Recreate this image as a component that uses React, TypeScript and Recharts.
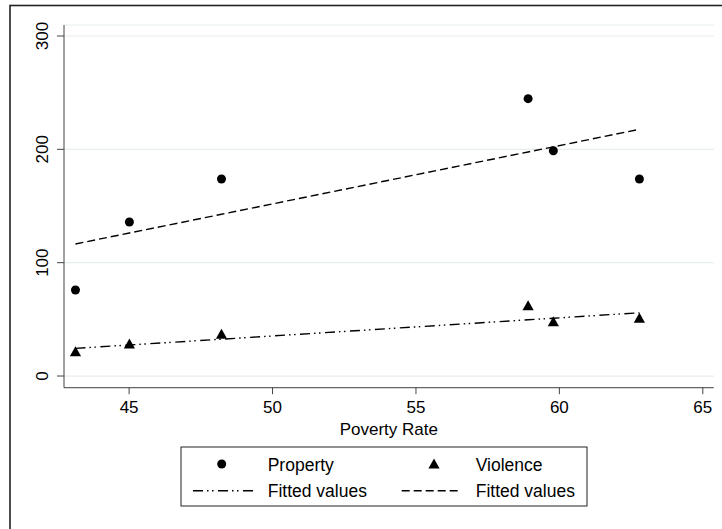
import React from "react";
import { ComposedChart, Scatter, Line, XAxis, YAxis, CartesianGrid } from "recharts";

const povertyRate = [43.13, 45.01, 48.22, 58.91, 59.79, 62.79];
const propertyCrime = [75.9, 135.9, 173.8, 244.7, 198.8, 173.8];
const violenceCrime = [21.4, 28.2, 36.9, 62.0, 47.9, 50.9];
const propertyFitted = [116.5, 126.2, 142.7, 197.7, 202.2, 217.7];
const violenceFitted = [24.4, 27.4, 32.5, 49.6, 51.0, 55.8];
const xTicks = [45, 50, 55, 60, 65];
const yTicks = [0, 100, 200, 300];

const data = povertyRate.map((x, i) => ({
  x,
  property: propertyCrime[i],
  violence: violenceCrime[i],
  fitProperty: propertyFitted[i],
  fitViolence: violenceFitted[i],
}));

const FONT = "'Liberation Sans', Arial, Helvetica, sans-serif";
const AXIS = "#444";
const DASH = "8 4";
const DASHDOT = "10 4 1.5 3.5 1.5 4.5";

const Circle = (p: any) => <circle cx={p.cx} cy={p.cy} r={4.5} fill="#000" />;
const Triangle = (p: any) => (
  <polygon
    points={`${p.cx},${p.cy - 5.5} ${p.cx - 5.6},${p.cy + 4.5} ${p.cx + 5.6},${p.cy + 4.5}`}
    fill="#000"
  />
);

const XTick = (p: any) => (
  <text x={p.x} y={412.5} textAnchor="middle" fontSize={17} fontFamily={FONT} fill="#000">
    {p.payload.value}
  </text>
);
const YTick = (p: any) => (
  <text
    x={48}
    y={p.y}
    transform={`rotate(-90, 48, ${p.y})`}
    textAnchor="middle"
    fontSize={17}
    fontFamily={FONT}
    fill="#000"
  >
    {p.payload.value}
  </text>
);

const XLabel = (p: any) => {
  const vb = p.viewBox || { x: 64, width: 650 };
  return (
    <text x={vb.x + vb.width / 2} y={434.5} textAnchor="middle" fontSize={17} fontFamily={FONT} fill="#000">
      Poverty Rate
    </text>
  );
};

export default function App() {
  return (
    <div style={{ position: "absolute", left: 0, top: 0, width: 722, height: 529, overflow: "hidden", background: "#fff" }}>
      <ComposedChart
        width={722}
        height={529}
        data={data}
        margin={{ top: 25, right: 8.3, left: 0, bottom: 0 }}
      >
        <CartesianGrid horizontal vertical={false} stroke="#e6eef0" strokeWidth={1.2} />
        <XAxis
          type="number"
          dataKey="x"
          domain={[42.73, 65.38]}
          ticks={xTicks}
          interval={0}
          allowDataOverflow
          height={141.3}
          tickSize={6.5}
          stroke={AXIS}
          tickLine={{ stroke: AXIS }}
          tick={<XTick />}
          label={{ content: <XLabel /> } as any}
        />
        <YAxis
          type="number"
          domain={[-10.3, 309.7]}
          ticks={yTicks}
          interval={0}
          allowDataOverflow
          width={64}
          tickSize={7}
          stroke={AXIS}
          tickLine={{ stroke: AXIS }}
          tick={<YTick />}
        />
        <Line
          type="linear"
          dataKey="fitViolence"
          stroke="#000"
          strokeWidth={1.4}
          strokeDasharray={DASHDOT}
          dot={false}
          activeDot={false}
          isAnimationActive={false}
        />
        <Line
          type="linear"
          dataKey="fitProperty"
          stroke="#000"
          strokeWidth={1.4}
          strokeDasharray={DASH}
          dot={false}
          activeDot={false}
          isAnimationActive={false}
        />
        <Scatter dataKey="property" shape={Circle} isAnimationActive={false} />
        <Scatter dataKey="violence" shape={Triangle} isAnimationActive={false} />
      </ComposedChart>
      <svg
        width={722}
        height={529}
        style={{ position: "absolute", left: 0, top: 0, pointerEvents: "none" }}
      >
        <rect x={10} y={5.5} width={800} height={600} fill="none" stroke="#222" strokeWidth={1.6} />
        <rect x={181} y={447} width={406} height={59} fill="#fff" stroke="#222" strokeWidth={1} />
        <circle cx={221.7} cy={464} r={4.5} fill="#000" />
        <text x={267.7} y={470.7} fontSize={17.5} fontFamily={FONT} fill="#000">Property</text>
        <polygon points={`434,458.5 428.4,468.5 439.6,468.5`} fill="#000" />
        <text x={475.7} y={470.7} fontSize={17.5} fontFamily={FONT} fill="#000">Violence</text>
        <line x1={193} y1={490.7} x2={256} y2={490.7} stroke="#000" strokeWidth={1.4} strokeDasharray={DASHDOT} />
        <text x={267.7} y={497.3} fontSize={17.5} fontFamily={FONT} fill="#000">Fitted values</text>
        <line x1={401.7} y1={490.7} x2={461.7} y2={490.7} stroke="#000" strokeWidth={1.4} strokeDasharray={DASH} />
        <text x={475.7} y={497.3} fontSize={17.5} fontFamily={FONT} fill="#000">Fitted values</text>
      </svg>
    </div>
  );
}
